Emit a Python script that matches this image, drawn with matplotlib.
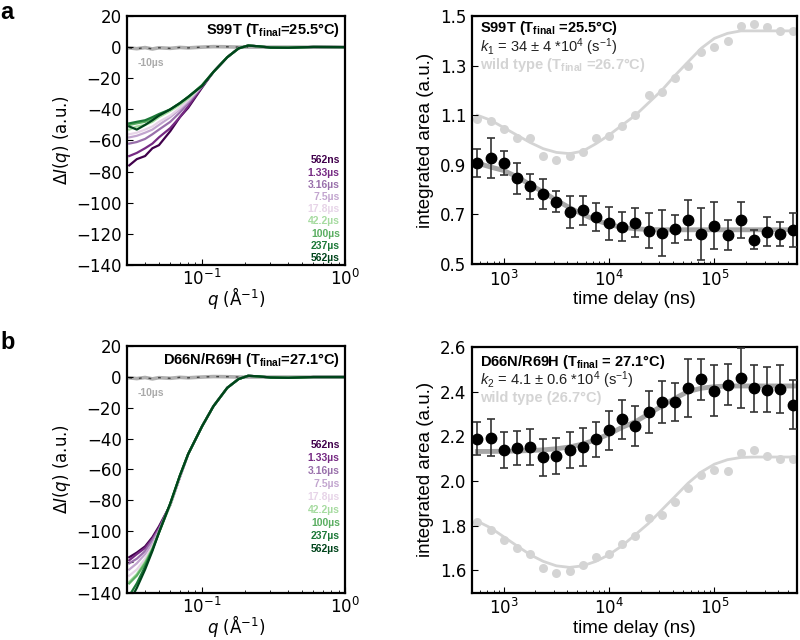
import numpy as np
import matplotlib.pyplot as plt

plt.rcParams['font.family'] = 'DejaVu Sans'
plt.rcParams['mathtext.fontset'] = 'dejavusans'
# 'custom' math set is used only for the Arial-like annotations
plt.rcParams['mathtext.rm'] = 'Liberation Sans'
plt.rcParams['mathtext.it'] = 'Liberation Sans:italic'
plt.rcParams['mathtext.bf'] = 'Liberation Sans:bold'

# ---- scattering difference curves (left panels) ----
q = [0.031, 0.035, 0.04, 0.045, 0.05, 0.06, 0.07, 0.08, 0.1,
     0.12, 0.15, 0.18, 0.21, 0.25, 0.3, 0.4, 0.6, 1.0]
delays = ['562ns', '1.33µs', '3.16µs', '7.5µs', '17.8µs', '42.2µs', '100µs', '237µs', '562µs']
delay_colors = ['#40004b', '#762a83', '#9970ab', '#c2a5cf', '#e7d4e8',
                '#a6dba0', '#5aae61', '#1b7837', '#00441b']

# low-q part (q = 0.031 ... 0.1), one row per delay
s99t_low = [
    [-76, -72, -70, -65, -63, -54, -45, -39, -26],
    [-70, -68, -65, -62, -58, -52, -45, -38, -25.5],
    [-62, -61, -59, -56, -53, -48, -42, -36, -25],
    [-58, -57, -55, -53, -50, -45, -40, -35, -25],
    [-56, -55, -53, -51, -48, -44, -39, -34, -24.5],
    [-53, -51, -50, -48, -45, -41, -37, -33, -24.5],
    [-50, -49, -48, -46, -44, -40, -36, -32, -24.5],
    [-49, -48, -47, -45, -43, -40, -36, -32, -24.5],
    [-51, -53, -50, -47, -44, -40, -36, -32, -25],
]
# high-q part (q = 0.12 ... 1.0), common to all delays
s99t_tail = [-16, -6.5, -0.8, 1.0, 0.5, -0.3, -0.4, 0.1, 0.0]

d66n_low = [
    [-117, -114, -110, -104, -97, -83, -65, -50, -32],
    [-119, -115, -111, -105, -98, -83, -65, -50, -32],
    [-121, -118, -113, -106, -99, -83, -65, -50, -32],
    [-125, -121, -115, -108, -100, -83, -65, -50, -32],
    [-129, -125, -118, -110, -101, -83, -65, -50, -32],
    [-133, -128, -120, -111, -101, -83, -64, -50, -32],
    [-134, -129, -121, -112, -101, -82, -64, -50, -32],
    [-142, -134, -123, -112, -101, -82, -64, -50, -32],
    [-146, -137, -125, -113, -101, -82, -64, -50, -32],
]
d66n_tail = [-19, -7, -1.3, 0.8, 0.4, -0.3, -0.5, 0.0, 0.0]

neg10us = [-0.5, -1, -0.3, -1.2, -0.4, -0.8, -0.2, -0.5, 0, 0.3, 0.2, 0, 0, 0, 0, 0, 0, 0]

# ---- integrated area kinetics (right panels) ----
t_ns = [562, 750, 1000, 1330, 1780, 2370, 3160, 4220, 5620, 7500, 10000, 13300,
        17800, 23700, 31600, 42200, 56200, 75000, 100000, 133000, 178000,
        237000, 316000, 422000, 562000]

s99t_area = [0.907, 0.927, 0.907, 0.846, 0.813, 0.782, 0.752, 0.709, 0.716, 0.689,
             0.664, 0.651, 0.667, 0.635, 0.625, 0.642, 0.678, 0.621, 0.655, 0.617,
             0.678, 0.598, 0.631, 0.621, 0.637]
s99t_err = [0.056, 0.082, 0.05, 0.063, 0.051, 0.062, 0.041, 0.065, 0.057, 0.055,
            0.066, 0.057, 0.058, 0.071, 0.091, 0.057, 0.082, 0.106, 0.096, 0.061,
            0.073, 0.038, 0.058, 0.047, 0.07]
s99t_fit = [0.907, 0.891, 0.877, 0.852, 0.82, 0.79, 0.757, 0.727, 0.70, 0.677,
            0.659, 0.648, 0.642, 0.639, 0.638, 0.638, 0.638, 0.638, 0.638, 0.638,
            0.638, 0.638, 0.638, 0.638, 0.638]
wt_area_a = [1.086, 1.077, 1.046, 1.009, 1.008, 0.934, 0.918, 0.934, 0.951, 1.009,
             1.015, 1.055, 1.100, 1.183, 1.194, 1.251, 1.298, 1.356, 1.376, 1.400,
             1.460, 1.468, 1.457, 1.441, 1.441]
wt_fit_a = [1.10, 1.08, 1.05, 1.02, 0.99, 0.965, 0.95, 0.945, 0.955, 0.985,
            1.02, 1.06, 1.10, 1.15, 1.20, 1.26, 1.315, 1.37, 1.41, 1.43,
            1.44, 1.44, 1.44, 1.44, 1.44]

d66n_area = [2.189, 2.194, 2.138, 2.147, 2.152, 2.105, 2.113, 2.138, 2.152, 2.186,
             2.226, 2.275, 2.245, 2.309, 2.353, 2.352, 2.415, 2.455, 2.404, 2.430,
             2.460, 2.415, 2.408, 2.411, 2.341]
d66n_err = [0.074, 0.083, 0.08, 0.076, 0.082, 0.084, 0.081, 0.079, 0.085, 0.08,
            0.089, 0.086, 0.089, 0.094, 0.095, 0.085, 0.13, 0.092, 0.113, 0.092,
            0.134, 0.105, 0.101, 0.107, 0.109]
d66n_fit = [2.132, 2.132, 2.133, 2.134, 2.136, 2.139, 2.144, 2.152, 2.165, 2.185,
            2.21, 2.24, 2.265, 2.30, 2.335, 2.37, 2.40, 2.415, 2.422, 2.425,
            2.425, 2.425, 2.425, 2.425, 2.425]
wt_area_b = [1.814, 1.780, 1.736, 1.699, 1.674, 1.610, 1.588, 1.596, 1.625, 1.658,
             1.672, 1.718, 1.755, 1.835, 1.847, 1.906, 1.968, 2.027, 2.051, 2.043,
             2.123, 2.138, 2.110, 2.098, 2.098]
wt_fit_b = [1.82, 1.79, 1.75, 1.71, 1.67, 1.64, 1.62, 1.613, 1.62, 1.64,
            1.67, 1.71, 1.76, 1.81, 1.87, 1.93, 1.99, 2.04, 2.075, 2.095,
            2.105, 2.107, 2.107, 2.107, 2.107]

ARIAL = 'Liberation Sans'
WT_GRAY = '#d4d4d4'


def style_box(ax):
    for s in ax.spines.values():
        s.set_linewidth(1.6)
    ax.tick_params(axis='both', which='major', labelsize=12, direction='in', length=4, pad=4)
    ax.tick_params(axis='both', which='minor', direction='in', length=2.5)
    ax.tick_params(axis='y', which='minor', left=False)


def draw_scattering(ax, low, tail, title, leg_top, leg_step):
    ax.plot(q, neg10us, color='#b0b0b0', lw=2.6, zorder=1)
    ax.plot(q, neg10us, color='#444444', lw=1, ls=(0, (2, 5)), zorder=1.1)
    for vals, c in zip(low, delay_colors):
        ax.plot(q, vals + tail, color=c, lw=1.6)
    ax.set_xscale('log')
    ax.set_xlim(0.03, 1.0)
    ax.set_ylim(-140, 20)
    ax.set_yticks(np.arange(-140, 21, 20))
    ax.set_xticks([0.1, 1.0])
    ax.set_ylabel(r'$\mathit{\Delta I(q)}$ (a.u.)', fontsize=12, labelpad=2)
    style_box(ax)
    ax.tick_params(axis='x', which='major', pad=3)
    ax.set_xlabel(r'$q$ (Å$^{-1}$)', fontsize=12, labelpad=-3)
    ax.text(0.975, 0.945, title, transform=ax.transAxes, ha='right', va='center',
            fontsize=10.5, fontweight='bold', family=ARIAL, math_fontfamily='custom')
    ax.text(0.05, 0.81, '-10µs', transform=ax.transAxes, ha='left', va='center',
            fontsize=7.5, fontweight='bold', family=ARIAL, color='#aaaaaa')
    for i, (lab, c) in enumerate(zip(delays, delay_colors)):
        ax.text(0.975, leg_top - i * leg_step, lab, transform=ax.transAxes,
                ha='right', va='center', fontsize=7.5, fontweight='bold',
                family=ARIAL, color=c)


def draw_kinetics(ax, area, err, fit, wt_area, wt_fit, ylim, yticks, lines, ys):
    ax.plot(t_ns, wt_fit, color=WT_GRAY, lw=2, zorder=1)
    ax.plot(t_ns, wt_area, 'o', color=WT_GRAY, ms=6.5, mec='none', zorder=1.5)
    ax.plot(t_ns, fit, color='#a6a6a6', lw=3.5, zorder=2)
    ax.errorbar(t_ns, area, yerr=err, fmt='o', color='black', ms=7.5,
                ecolor='#333333', elinewidth=1.2, capsize=3, capthick=1.2, zorder=3)
    ax.set_xscale('log')
    ax.set_xlim(500, 6.1e5)
    ax.set_ylim(*ylim)
    ax.set_yticks(yticks)
    ax.set_xlabel('time delay (ns)', fontsize=13.5, family=ARIAL, labelpad=1)
    ax.set_ylabel('integrated area (a.u.)', fontsize=13.5, family=ARIAL, labelpad=4)
    style_box(ax)
    colors = ['black', '#222222', WT_GRAY]
    weights = ['bold', 'normal', 'bold']
    for txt, y, c, w in zip(lines, ys, colors, weights):
        ax.text(0.025, y, txt, transform=ax.transAxes, ha='left', va='center',
                fontsize=10.5, fontweight=w, color=c, family=ARIAL,
                math_fontfamily='custom')


fig = plt.figure(figsize=(8, 6.4), dpi=100)
ax_a1 = fig.add_axes([0.159, 0.586, 0.2725, 0.389])
ax_a2 = fig.add_axes([0.59, 0.5875, 0.4065, 0.3875])
ax_b1 = fig.add_axes([0.159, 0.074, 0.2725, 0.385])
ax_b2 = fig.add_axes([0.59, 0.074, 0.4065, 0.384])

draw_scattering(ax_a1, s99t_low, s99t_tail,
                r'S99T (T$_{\mathbf{final}}$=25.5°C)', 0.42, 0.049)
draw_scattering(ax_b1, d66n_low, d66n_tail,
                r'D66N/R69H (T$_{\mathbf{final}}$=27.1°C)', 0.60, 0.053)

draw_kinetics(ax_a2, s99t_area, s99t_err, s99t_fit, wt_area_a, wt_fit_a,
              (0.5, 1.5), [0.5, 0.7, 0.9, 1.1, 1.3, 1.5],
              [r'S99T (T$_{\mathbf{final}}$ =25.5°C)',
               r'$k_{\mathit{1}}$ = 34 ± 4 *10$^{4}$ (s$^{-1}$)',
               r'wild type (T$_{\mathbf{final}}$ =26.7°C)'],
              [0.952, 0.876, 0.802])
draw_kinetics(ax_b2, d66n_area, d66n_err, d66n_fit, wt_area_b, wt_fit_b,
              (1.5, 2.6), [1.6, 1.8, 2.0, 2.2, 2.4, 2.6],
              [r'D66N/R69H (T$_{\mathbf{final}}$ = 27.1°C)',
               r'$k_{\mathit{2}}$ = 4.1 ± 0.6 *10$^{4}$ (s$^{-1}$)',
               'wild type (26.7°C)'],
              [0.939, 0.865, 0.794])

fig.text(0.0, 0.999, 'a', fontsize=17, fontweight='bold', family=ARIAL, va='top')
fig.text(0.0, 0.483, 'b', fontsize=17, fontweight='bold', family=ARIAL, va='top')

fig.savefig('out.png', dpi=100)
